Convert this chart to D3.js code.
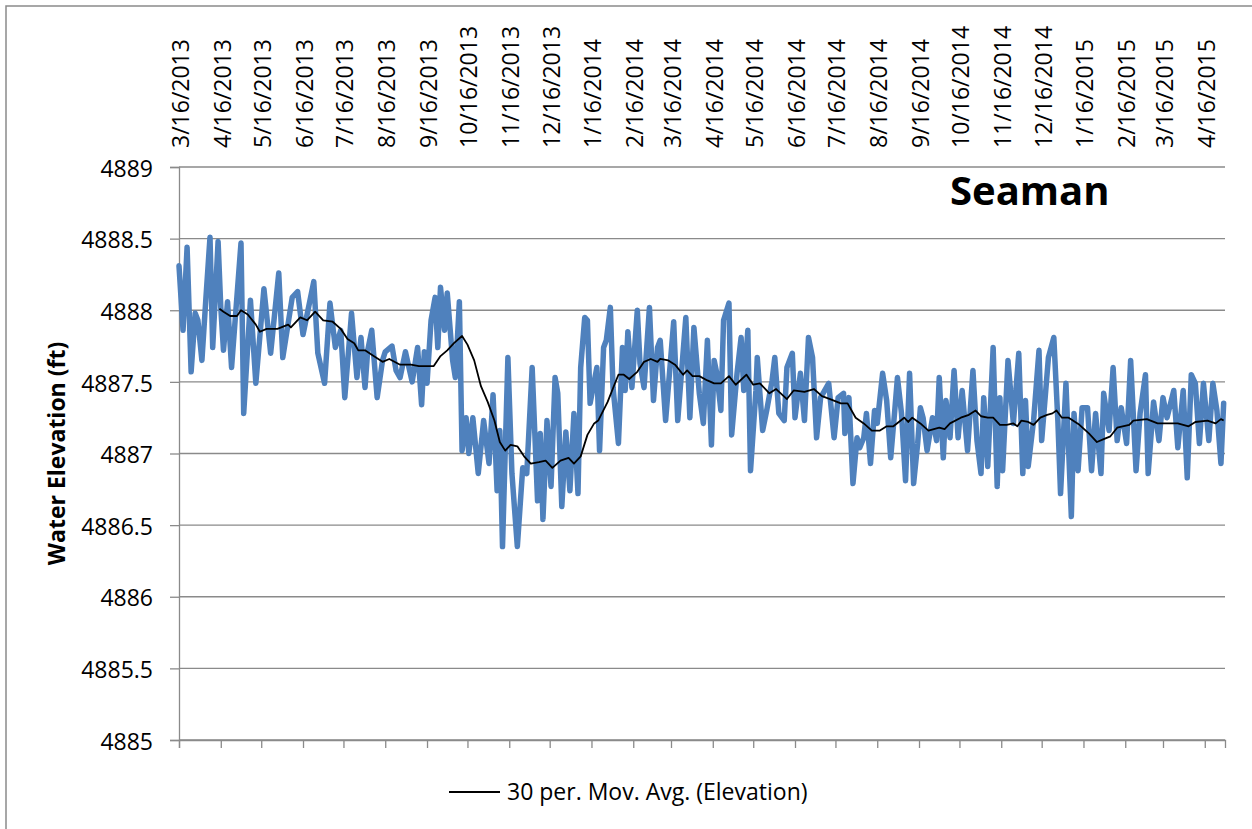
<!DOCTYPE html>
<html>
<head>
<meta charset="utf-8">
<script src="https://cdn.jsdelivr.net/npm/d3@7"></script>
<style>
  body { margin: 0; background: #fff; }
  svg { display: block; }
</style>
</head>
<body>
<div id="chart"></div>
<script>

// first day of the record, every other day is counted from it
var startDate = new Date(2013, 2, 16);
var endDate = new Date(2015, 4, 1);

// daily water elevation (ft), day offset from startDate
var elevDays = [0,3,6,9,12,14,17,20,23,25,29,31,33,36,39,46,48,53,57,63,68,74,77,84,88,92,100,103,108,112,116,
  120,123,128,132,135,138,140,143,147,151,153,158,161,164,168,173,177,180,182,184,187,190,192,194,197,199,203,205,208,
  210,213,215,218,222,226,230,233,236,238,240,244,247,251,255,258,262,266,268,270,273,276,279,281,284,287,290,293,296,298,
  301,303,305,310,312,315,317,320,322,326,329,331,333,336,340,342,345,349,352,355,357,361,367,370,376,379,382,386,389,392,395,397,399,
  402,404,408,410,414,417,419,422,424,428,429,433,436,440,442,445,449,451,455,457,461,464,467,470,473,476,482,486,489,493,494,497,
  500,503,505,508,510,513,516,518,522,525,528,531,533,536,539,542,545,548,550,552,555,559,562,564,567,569,572,575,578,581,585,589,592,595,597,
  600,604,607,609,611,615,619,623,626,628,630,634,638,640,645,649,652,654,658,662,664,667,670,674,677,680,684,686,690,693,696,699,
  703,706,710,713,717,719,723,727,730,733,738,741,745,748,751,754,757,760,764,767,770,773,775];
var elevation = [4888.31,4887.86,4888.44,4887.57,4887.98,4887.93,4887.65,4888.09,4888.51,4887.74,4888.48,4888.02,4887.72,4888.06,4887.60,4888.47,4887.28,4888.07,4887.49,4888.15,4887.70,4888.26,4887.67,4888.09,4888.13,4887.83,4888.20,4887.70,4887.49,4888.05,4887.74,
  4887.86,4887.39,4887.98,4887.53,4887.81,4887.46,4887.72,4887.86,4887.39,4887.65,4887.71,4887.75,4887.58,4887.53,4887.71,4887.50,4887.74,4887.34,4887.71,4887.49,4887.93,4888.09,4887.74,4888.16,4887.86,4888.12,4887.65,4887.53,4888.06,
  4887.02,4887.25,4887.00,4887.25,4886.86,4887.23,4886.93,4887.41,4886.74,4887.16,4886.35,4887.67,4886.86,4886.35,4886.90,4886.86,4887.60,4886.67,4887.14,4886.54,4887.23,4886.77,4887.53,4887.42,4886.63,4887.15,4886.74,4887.28,4886.72,4887.60,
  4887.95,4887.93,4887.35,4887.60,4887.02,4887.74,4887.79,4888.02,4887.46,4887.07,4887.74,4887.44,4887.85,4887.46,4888.00,4887.63,4887.46,4888.02,4887.37,4887.74,4887.79,4887.23,4887.92,4887.23,4887.95,4887.25,4887.88,4887.42,4887.21,4887.79,4887.06,4887.65,4887.56,
  4887.30,4887.93,4888.05,4887.13,4887.56,4887.81,4887.44,4887.86,4886.88,4887.44,4887.67,4887.16,4887.30,4887.51,4887.67,4887.28,4887.23,4887.60,4887.70,4887.25,4887.56,4887.23,4887.81,4887.67,4887.11,4887.39,4887.49,4887.11,4887.39,4887.42,4887.14,4887.39,
  4886.79,4887.11,4887.04,4887.11,4887.28,4886.93,4887.30,4887.21,4887.56,4887.37,4886.97,4887.30,4887.53,4887.28,4886.81,4887.56,4886.79,4887.07,4887.32,4887.25,4887.02,4887.25,4887.09,4887.53,4886.97,4887.37,4887.11,4887.58,4887.11,4887.44,4887.02,4887.58,4887.09,4886.86,4887.39,
  4886.91,4887.74,4886.77,4887.39,4886.88,4887.65,4887.21,4887.70,4886.86,4887.37,4886.91,4887.23,4887.72,4887.09,4887.67,4887.81,4887.23,4886.72,4887.49,4886.56,4887.28,4886.88,4887.32,4887.32,4886.88,4887.28,4886.86,4887.42,4887.16,4887.60,4887.09,4887.32,
  4887.07,4887.65,4886.88,4887.28,4887.55,4886.86,4887.36,4887.09,4887.39,4887.25,4887.44,4887.04,4887.44,4886.83,4887.55,4887.49,4887.07,4887.49,4887.09,4887.49,4887.30,4886.93,4887.35];

// 30 per. moving average of the elevation
var avgDays = [30,33,38,43,46,51,57,60,65,73,81,83,90,95,101,107,114,120,125,130,133,138,143,151,156,164,172,178,189,194,199,204,
  210,214,219,224,229,234,238,242,246,251,256,261,267,272,277,283,289,293,298,303,308,311,318,323,326,330,334,340,345,350,355,357,
  363,368,374,377,381,386,392,397,402,408,413,421,426,431,438,443,451,456,464,471,477,483,491,496,502,508,514,520,525,530,538,541,544,
  550,556,564,568,572,580,586,591,595,600,604,609,614,619,622,625,630,634,639,644,648,651,655,660,668,675,681,686,691,696,705,708,
  718,726,733,741,749,754,763,769,773,775];
var avgValue = [4888.01,4887.99,4887.96,4887.96,4888.00,4887.97,4887.90,4887.85,4887.87,4887.87,4887.90,4887.88,4887.95,4887.93,4887.99,4887.93,4887.92,4887.87,4887.80,4887.77,4887.72,4887.72,4887.69,4887.64,4887.66,4887.62,4887.62,4887.61,4887.61,4887.68,4887.72,4887.77,
  4887.82,4887.76,4887.65,4887.47,4887.36,4887.23,4887.08,4887.02,4887.06,4887.05,4886.98,4886.93,4886.94,4886.95,4886.90,4886.95,4886.97,4886.93,4886.98,4887.13,4887.21,4887.23,4887.36,4887.48,4887.55,4887.55,4887.52,4887.57,4887.64,4887.66,4887.64,4887.66,
  4887.65,4887.62,4887.55,4887.58,4887.54,4887.54,4887.51,4887.49,4887.49,4887.54,4887.48,4887.55,4887.48,4887.49,4887.42,4887.45,4887.38,4887.44,4887.43,4887.45,4887.40,4887.38,4887.35,4887.35,4887.25,4887.21,4887.16,4887.16,4887.19,4887.19,4887.25,4887.22,4887.25,
  4887.21,4887.16,4887.18,4887.17,4887.21,4887.25,4887.27,4887.30,4887.26,4887.25,4887.25,4887.20,4887.20,4887.21,4887.19,4887.23,4887.22,4887.20,4887.25,4887.27,4887.28,4887.30,4887.25,4887.25,4887.20,4887.14,4887.08,4887.10,4887.12,4887.18,4887.20,4887.23,
  4887.24,4887.21,4887.21,4887.21,4887.19,4887.22,4887.23,4887.21,4887.24,4887.23];

// y axis ticks (ft)
var yTicks = [4885, 4885.5, 4886, 4886.5, 4887, 4887.5, 4888, 4888.5, 4889];

var W = 1252, H = 829;
var plot = {left: 179, right: 1225, top: 167, bottom: 740};
var gridColor = "#8a8a8a";
var font = "'Open Sans', 'DejaVu Sans', sans-serif";

var svg = d3.select("#chart")
  .append("svg")
  .attr("width", W)
  .attr("height", H);

svg.append("rect")
  .attr("width", W).attr("height", H)
  .attr("fill", "#fff");

// chart area border (runs off the right and bottom of the picture)
svg.append("rect")
  .attr("x", 6).attr("y", 6)
  .attr("width", W + 20).attr("height", H + 20)
  .attr("fill", "none")
  .attr("stroke", gridColor)
  .attr("stroke-width", 1.5);

/****** SCALES ******/
var x = d3.scaleTime()
  .domain([startDate, endDate])
  .range([plot.left, plot.right]);

var y = d3.scaleLinear()
  .domain([4885, 4889])
  .range([plot.bottom, plot.top]);

function dayToDate(d) { return d3.timeDay.offset(startDate, d); }

/****** GRID ******/
svg.append("g")
  .selectAll("line")
  .data(yTicks)
  .enter()
  .append("line")
    .attr("x1", plot.left)
    .attr("x2", plot.right)
    .attr("y1", function(d) { return y(d); })
    .attr("y2", function(d) { return y(d); })
    .attr("stroke", gridColor)
    .attr("stroke-width", 1.3);

/****** Y AXIS ******/
var yAxis = d3.axisLeft(y)
  .tickValues(yTicks)
  .tickSize(9)
  .tickPadding(17)
  .tickFormat(function(d) { return String(d); });

var gy = svg.append("g")
  .attr("transform", "translate(" + plot.left + ",0)")
  .call(yAxis);
gy.select(".domain").attr("stroke", gridColor).attr("stroke-width", 1.3);
gy.selectAll(".tick line").attr("stroke", gridColor).attr("stroke-width", 1.3);
gy.selectAll(".tick text")
  .attr("dy", "0.4em")
  .style("font-family", font)
  .style("font-size", "23px")
  .attr("fill", "#000");

svg.append("text")
  .attr("transform", "translate(65," + ((plot.top + plot.bottom) / 2) + ") rotate(-90)")
  .attr("text-anchor", "middle")
  .style("font-family", font)
  .style("font-size", "23px")
  .style("font-weight", "bold")
  .text("Water Elevation (ft)");

/****** X AXIS (ticks at bottom, labels on top) ******/
var monthTicks = d3.timeMonth.range(new Date(2013, 2, 1), new Date(2015, 4, 1))
  .map(function(d) { return new Date(d.getFullYear(), d.getMonth(), 16); });
var fmt = d3.timeFormat("%-m/%-d/%Y");

var xAxis = d3.axisBottom(x)
  .tickValues(monthTicks)
  .tickSize(8)
  .tickFormat("");

var gx = svg.append("g")
  .attr("transform", "translate(0," + plot.bottom + ")")
  .call(xAxis);
gx.select(".domain").attr("stroke", gridColor).attr("stroke-width", 1.3);
gx.selectAll(".tick line").attr("stroke", gridColor).attr("stroke-width", 1.3);

// rotated labels read bottom to top and end 148px down the page
svg.append("g")
  .selectAll("text")
  .data(monthTicks)
  .enter()
  .append("text")
    .attr("transform", function(d) { return "translate(" + x(d) + ",148) rotate(-90)"; })
    .attr("text-anchor", "start")
    .attr("dy", "0.43em")
    .style("font-family", font)
    .style("font-size", "23px")
    .text(function(d) { return fmt(d); });

/****** SERIES ******/
var elevData = elevDays.map(function(d, i) { return {date: dayToDate(d), v: elevation[i]}; });
var avgData = avgDays.map(function(d, i) { return {date: dayToDate(d), v: avgValue[i]}; });

var line = d3.line()
  .x(function(d) { return x(d.date); })
  .y(function(d) { return y(d.v); });

svg.append("path")
  .datum(elevData)
  .attr("d", line)
  .attr("fill", "none")
  .attr("stroke", "#4f81bd")
  .attr("stroke-width", 5.5)
  .attr("stroke-linejoin", "round")
  .attr("stroke-linecap", "round");

svg.append("path")
  .datum(avgData)
  .attr("d", line)
  .attr("fill", "none")
  .attr("stroke", "#000")
  .attr("stroke-width", 1.8)
  .attr("stroke-linejoin", "round");

/****** TITLE & LEGEND ******/
svg.append("text")
  .attr("x", 950)
  .attr("y", 205)
  .style("font-family", font)
  .style("font-size", "40px")
  .style("font-weight", "bold")
  .text("Seaman");

svg.append("line")
  .attr("x1", 449).attr("x2", 500)
  .attr("y1", 792).attr("y2", 792)
  .attr("stroke", "#000")
  .attr("stroke-width", 1.8);

svg.append("text")
  .attr("x", 507)
  .attr("y", 800)
  .style("font-family", font)
  .style("font-size", "23px")
  .text("30 per. Mov. Avg. (Elevation)");

</script>
</body>
</html>
